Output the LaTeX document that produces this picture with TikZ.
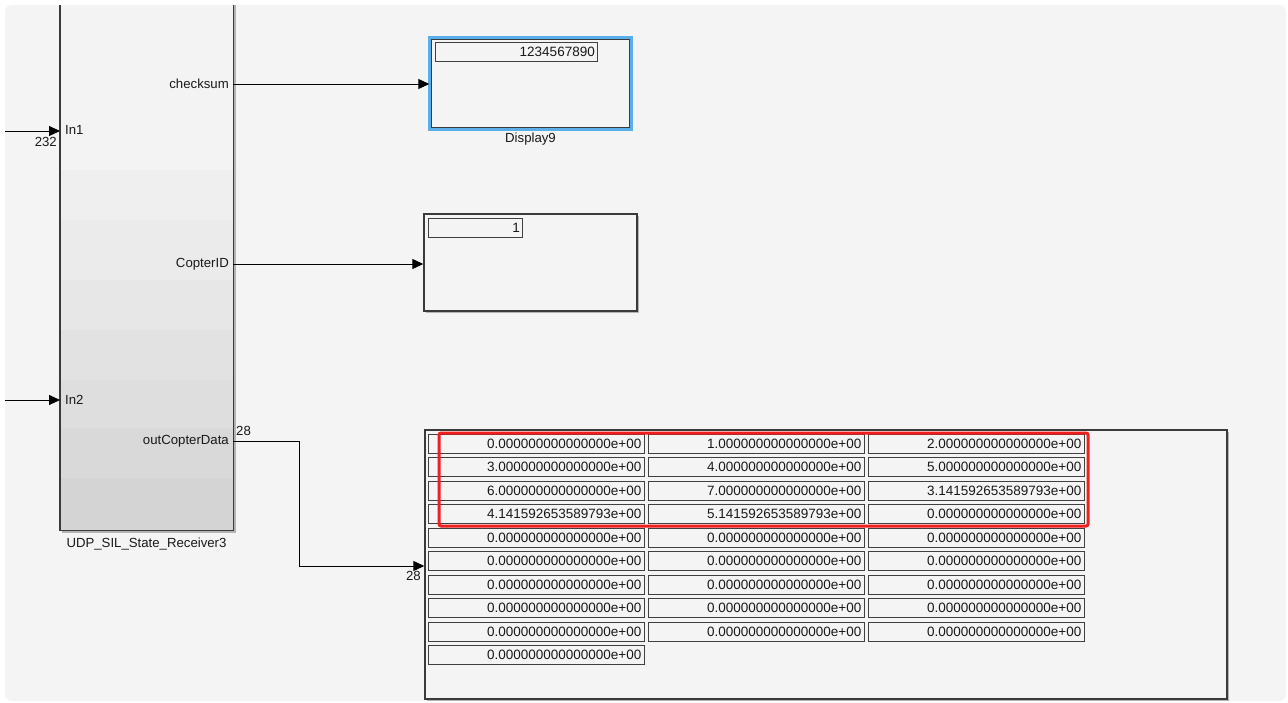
\documentclass[tikz,border=0pt]{standalone}
\usepackage{fontspec}
\setmainfont{Liberation Sans}
\usetikzlibrary{arrows.meta}
\definecolor{canvasbg}{HTML}{F4F4F4}
\definecolor{edgegray}{HTML}{3A3A3A}
\definecolor{cellgray}{HTML}{404040}
\definecolor{selblue}{HTML}{5AAEEA}
\definecolor{shadowgray}{HTML}{B4B4B4}
\definecolor{hired}{HTML}{F01E1E}
\newcommand{\lblfont}{\fontsize{13.2}{15}\selectfont}
\newcommand{\numfont}{\fontsize{13.5}{15}\selectfont}
\begin{document}
\begin{tikzpicture}[x=1pt,y=-1pt,
  sig/.style={line width=0.9pt, draw=black, -{Triangle[length=11pt,width=10pt]}},
  wire/.style={line width=0.9pt, draw=black},
  lbl/.style={font=\lblfont, inner sep=0pt, text=black!90},
  blk/.style={draw=edgegray, line width=1.4pt, fill=canvasbg, inner sep=0pt},
  fieldbox/.style={draw=cellgray, line width=0.9pt, inner sep=0pt, anchor=north west},
  cell/.style={draw=cellgray, line width=0.8pt, minimum width=216pt, minimum height=19pt,
     text width=210pt, inner xsep=3pt, inner ysep=0pt, align=right, anchor=north west,
     font=\numfont, text=black!90}
]
\useasboundingbox (0,0) rectangle (1288,702);
\fill[white] (0,0) rectangle (1288,702);
\fill[canvasbg, rounded corners=7pt] (5,5) rectangle (1286,701);

% ---- subsystem block ----
\fill[shadowgray] (62,5) rectangle (235.5,532.5);
\foreach \ya/\yb/\c in {5/170/243, 170/220/239, 220/280/235, 280/330/231, 330/380/226, 380/428/222, 428/478/217, 478/530/212}
  \fill[fill={rgb,255:red,\c;green,\c;blue,\c}] (60,\ya) rectangle (233,\yb);
\node[inner sep=0pt, minimum width=173pt, minimum height=525pt] (rx) at (146.5,267.5) {};
\draw[edgegray, line width=1.4pt] (rx.north west) -- (rx.south west) -- (rx.south east) -- (rx.north east);
\node[lbl, anchor=north] (rxname) at (146.5,538) {UDP\_SIL\_State\_Receiver3};

% ports
\node[lbl, anchor=west] (pin1) at (65,130) {In1};
\node[lbl, anchor=west] (pin2) at (65,400) {In2};
\node[lbl, anchor=east] (pchk) at (229,84) {checksum};
\node[lbl, anchor=east] (pcid) at (229,264) {CopterID};
\node[lbl, anchor=east] (pout) at (229,441) {outCopterData};

\coordinate (src1) at (5,131);
\coordinate (src2) at (5,400);
\coordinate (in1) at (60,131);
\coordinate (in2) at (60,400);
\draw[sig] (src1) -- (in1);
\draw[sig] (src2) -- (in2);
\node[lbl, anchor=north east] (w232) at (57,137) {232};

% ---- Display9 ----
\node[inner sep=0pt, minimum width=202pt, minimum height=92pt] (disp9) at (530.5,83.5) {};
\draw[selblue, line width=3pt] (disp9.north west) rectangle (disp9.south east);
\draw[edgegray, line width=1.3pt] ([shift={(2.2pt,-2.2pt)}]disp9.north west) rectangle ([shift={(-2.2pt,2.2pt)}]disp9.south east);
\node[fieldbox, minimum width=162pt, minimum height=19pt] (f9) at (435,42) {};
\node[font=\numfont, anchor=east, inner sep=0pt, text=black!90] (v9) at (595,51.5) {1234567890};
\node[lbl, anchor=north] (d9name) at (530.5,133) {Display9};

% ---- Display (CopterID) ----
\fill[shadowgray] (426,216) rectangle (639,313);
\node[blk, minimum width=213pt, minimum height=97pt] (disp2) at (530.5,262.5) {};
\node[fieldbox, minimum width=94pt, minimum height=19pt] (f2) at (428,218) {};
\node[font=\numfont, anchor=east, inner sep=0pt, text=black!90] (v2) at (520,228) {1};

% ---- Big display ----
\fill[shadowgray] (427,432) rectangle (1229,701);
\node[blk, minimum width=802pt, minimum height=269pt] (disp3) at (826,564.5) {};

\foreach \r/\a/\b/\cc in {
 0/0.000000000000000e+00/1.000000000000000e+00/2.000000000000000e+00,
 1/3.000000000000000e+00/4.000000000000000e+00/5.000000000000000e+00,
 2/6.000000000000000e+00/7.000000000000000e+00/3.141592653589793e+00,
 3/4.141592653589793e+00/5.141592653589793e+00/0.000000000000000e+00,
 4/0.000000000000000e+00/0.000000000000000e+00/0.000000000000000e+00,
 5/0.000000000000000e+00/0.000000000000000e+00/0.000000000000000e+00,
 6/0.000000000000000e+00/0.000000000000000e+00/0.000000000000000e+00,
 7/0.000000000000000e+00/0.000000000000000e+00/0.000000000000000e+00,
 8/0.000000000000000e+00/0.000000000000000e+00/0.000000000000000e+00}{
  \node[cell] (c\r a) at (428,{434+\r*23.44}) {\a};
  \node[cell] (c\r b) at (648,{434+\r*23.44}) {\b};
  \node[cell] (c\r c) at (868,{434+\r*23.44}) {\cc};
}
\node[cell] (c9a) at (428,{434+9*23.44}) {0.000000000000000e+00};

\draw[hired, line width=3pt, rounded corners=2pt] (439,433) rectangle (1088,526);

% ---- connectors ----
\coordinate (o1) at (233,84);
\coordinate (o2) at (233,264);
\coordinate (o3) at (233,441);
\coordinate (bend1) at (299,441);
\coordinate (bend2) at (299,566);
\draw[sig] (o1) -- (o1 -| disp9.west);
\draw[sig] (o2) -- (o2 -| disp2.west);
\draw[sig] (o3) -- (bend1) -- (bend2) -- (bend2 -| disp3.west);
\node[lbl, anchor=south west] (w28a) at (236,436) {28};
\node[lbl, anchor=north east] (w28b) at (421,571) {28};
\end{tikzpicture}
\end{document}
